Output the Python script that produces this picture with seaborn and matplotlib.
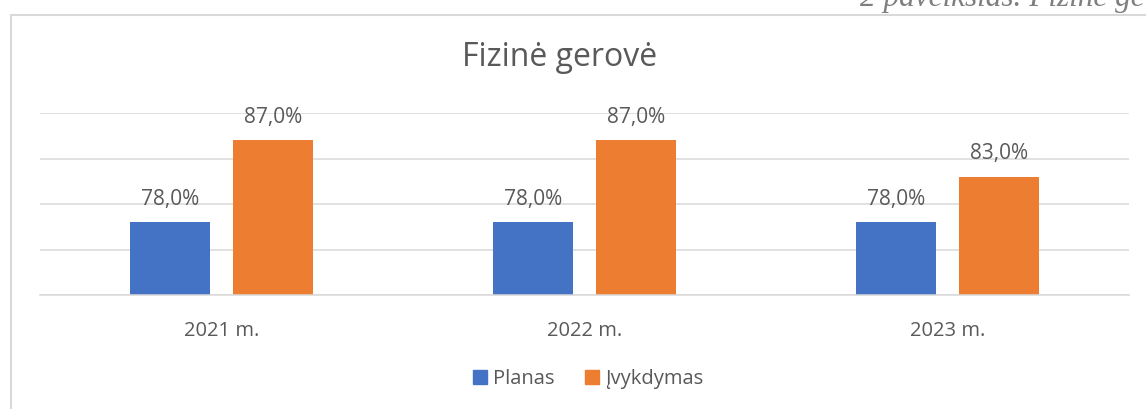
import matplotlib
matplotlib.use("Agg")
import matplotlib.pyplot as plt
import seaborn as sns
import pandas as pd
from matplotlib.lines import Line2D

years = ["2021 m.", "2022 m.", "2023 m."]
series = ["Planas", "Įvykdymas"]
planas = [78.0, 78.0, 78.0]
ivykdymas = [87.0, 87.0, 83.0]
title = "Fizinė gerovė"
caption = "2 paveikslas. Fizinė gerovė"

df = pd.DataFrame({
    "Metai": years * 2,
    "Serija": [series[0]] * 3 + [series[1]] * 3,
    "Reikšmė": planas + ivykdymas,
})

sns.set_theme(style="white")
plt.rcParams["font.family"] = ["Open Sans", "DejaVu Sans"]

text_color = "#595959"
grid_color = "#D9D9D9"
colors = ["#4472C4", "#ED7D31"]

fig = plt.figure(figsize=(11.46, 4.09), dpi=100)
ax = fig.add_axes([40 / 1146, 1 - 295 / 409, (1129 - 40) / 1146, (295 - 113) / 409])

sns.barplot(data=df, x="Metai", y="Reikšmė", hue="Serija", palette=colors,
            width=0.567, gap=0.225, ax=ax, legend=False, saturation=1, linewidth=0)

ax.set_ylim(70, 90)
ax.set_yticks([70, 75, 80, 85, 90])
ax.set_yticklabels([])
ax.yaxis.grid(True, color=grid_color, linewidth=1.1)
ax.set_axisbelow(True)
for s in ["left", "right", "top"]:
    ax.spines[s].set_visible(False)
ax.spines["bottom"].set_color(grid_color)
ax.spines["bottom"].set_linewidth(1.1)
ax.tick_params(axis="both", length=0)
ax.tick_params(axis="x", labelsize=14.5, labelcolor=text_color, pad=19)
ax.set_xlabel("")
ax.set_ylabel("")

for cont in ax.containers:
    ax.bar_label(cont, labels=[f"{v:.1f}%".replace(".", ",") for v in cont.datavalues],
                 padding=9, fontsize=15, color=text_color)

fig.text(560 / 1146, 1 - 58 / 409, title, ha="center", va="center",
         fontsize=23, color=text_color)

handles = [plt.Rectangle((0, 0), 1, 1, color=c) for c in colors]
fig.legend(handles, series, loc="center", bbox_to_anchor=(588 / 1146, 1 - 379 / 409),
           ncol=2, frameon=False, fontsize=14.5, labelcolor=text_color,
           handlelength=0.7, handleheight=0.7, handletextpad=0.3, columnspacing=1.5)

# chart border (top and left visible)
fig.add_artist(Line2D([10.5 / 1146, 10.5 / 1146], [0, 1 - 14.5 / 409], color=grid_color,
                      linewidth=1.5, transform=fig.transFigure))
fig.add_artist(Line2D([10.5 / 1146, 1], [1 - 14.5 / 409, 1 - 14.5 / 409], color=grid_color,
                      linewidth=1.5, transform=fig.transFigure))

# clipped caption above the chart
fig.text(860 / 1146, 1 - 6 / 409, caption, ha="left", va="baseline",
         fontsize=22.5, style="italic", color="#7F7F7F", family="Liberation Serif")

fig.savefig("out.png", dpi=100)
